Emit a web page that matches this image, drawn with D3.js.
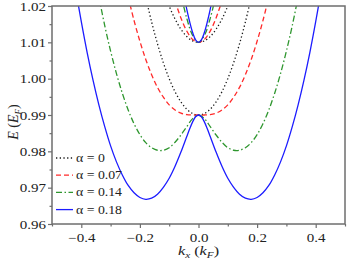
<!DOCTYPE html>
<html>
<head>
<meta charset="utf-8">
<script src="https://cdn.jsdelivr.net/npm/d3@7"></script>
<style>
  body { margin: 0; background: #fff; }
  svg text { font-family: "Liberation Serif", "Times New Roman", serif !important; fill: #222; }
</style>
</head>
<body>
<svg id="chart" width="349" height="265"></svg>
<script>
// values, k in units of kF, E in units of EF
var alphaLabels = ['\u03b1 = 0', '\u03b1 = 0.07', '\u03b1 = 0.14', '\u03b1 = 0.18'];

var k0lo = [-0.18,-0.16,-0.14,-0.12,-0.10,-0.08,-0.06,-0.04,-0.02,0,0.02,0.04,0.06,0.08,0.10,0.12,0.14,0.16,0.18];
var e0lo = [1.0224,1.0156,1.0096,1.0044,1.0000,0.9964,0.9936,0.9916,0.9904,0.9900,0.9904,0.9916,0.9936,0.9964,1.0000,1.0044,1.0096,1.0156,1.0224];
var k0up = [-0.12,-0.10,-0.08,-0.06,-0.04,-0.02,0,0.02,0.04,0.06,0.08,0.10,0.12];
var e0up = [1.0244,1.0200,1.0164,1.0136,1.0116,1.0104,1.0100,1.0104,1.0116,1.0136,1.0164,1.0200,1.0244];

var k07lo = [-0.24,-0.22,-0.20,-0.18,-0.16,-0.14,-0.12,-0.10,-0.08,-0.06,-0.04,-0.02,0,0.02,0.04,0.06,0.08,0.10,0.12,0.14,0.16,0.18,0.20,0.22,0.24];
var e07lo = [1.0225,1.0160,1.0103,1.0053,1.0011,0.9976,0.9949,0.9928,0.9914,0.9905,0.9901,0.9900,0.9900,0.9900,0.9901,0.9905,0.9914,0.9928,0.9949,0.9976,1.0011,1.0053,1.0103,1.0160,1.0225];
var k07up = [-0.08,-0.06,-0.04,-0.02,0,0.02,0.04,0.06,0.08];
var e07up = [1.0214,1.0167,1.0131,1.0108,1.0100,1.0108,1.0131,1.0167,1.0214];

var k14lo = [-0.34,-0.32,-0.30,-0.28,-0.26,-0.24,-0.22,-0.20,-0.18,-0.16,-0.14,-0.12,-0.10,-0.08,-0.06,-0.04,-0.02,0,0.02,0.04,0.06,0.08,0.10,0.12,0.14,0.16,0.18,0.20,0.22,0.24,0.26,0.28,0.30,0.32,0.34];
var e14lo = [1.0225,1.0146,1.0076,1.0014,0.9960,0.9914,0.9876,0.9846,0.9824,0.9810,0.9803,0.9803,0.9810,0.9825,0.9845,0.9868,0.9890,0.9900,0.9890,0.9868,0.9845,0.9825,0.9810,0.9803,0.9803,0.9810,0.9824,0.9846,0.9876,0.9914,0.9960,1.0014,1.0076,1.0146,1.0225];
var k14up = [-0.06,-0.04,-0.02,0,0.02,0.04,0.06];
var e14up = [1.0232,1.0166,1.0119,1.0100,1.0119,1.0166,1.0232];

var k18lo = [-0.42,-0.40,-0.38,-0.36,-0.34,-0.32,-0.30,-0.28,-0.26,-0.24,-0.22,-0.20,-0.18,-0.16,-0.14,-0.12,-0.10,-0.08,-0.06,-0.04,-0.03,-0.02,-0.01,0,0.01,0.02,0.03,0.04,0.06,0.08,0.10,0.12,0.14,0.16,0.18,0.20,0.22,0.24,0.26,0.28,0.30,0.32,0.34,0.36,0.38,0.40,0.42];
var e18lo = [1.0249,1.0157,1.0072,0.9996,0.9928,0.9868,0.9815,0.9771,0.9735,0.9706,0.9686,0.9673,0.9668,0.9671,0.9682,0.9701,0.9726,0.9759,0.9798,0.9841,0.9862,0.9881,0.9895,0.9900,0.9895,0.9881,0.9862,0.9841,0.9798,0.9759,0.9726,0.9701,0.9682,0.9671,0.9668,0.9673,0.9686,0.9706,0.9735,0.9771,0.9815,0.9868,0.9928,0.9996,1.0072,1.0157,1.0249];
var k18up = [-0.05,-0.04,-0.03,-0.02,-0.01,0,0.01,0.02,0.03,0.04,0.05];
var e18up = [1.0231,1.0191,1.0156,1.0127,1.0107,1.0100,1.0107,1.0127,1.0156,1.0191,1.0231];

var xTicks = [-0.4, -0.2, 0.0, 0.2, 0.4];
var yTicks = [0.96, 0.97, 0.98, 0.99, 1.00, 1.01, 1.02];

var styles = [
	{color: '#1a1a1a', dash: '1.3,2.4'},
	{color: '#ff2a2a', dash: '5,3'},
	{color: '#2e962e', dash: '6,2.5,1.5,2.5'},
	{color: '#1c1cff', dash: null}
];
var series = [
	[[k0lo, e0lo], [k0up, e0up]],
	[[k07lo, e07lo], [k07up, e07up]],
	[[k14lo, e14lo], [k14up, e14up]],
	[[k18lo, e18lo], [k18up, e18up]]
];

var serif = '"Liberation Serif", "Times New Roman", serif';
var svg = d3.select('#chart');
var margin = {top: 6, right: 4, bottom: 41, left: 52};
var width = 349 - margin.left - margin.right;
var height = 265 - margin.top - margin.bottom;
var sx = 1.25; // text in the picture looks stretched sideways

var x = d3.scaleLinear().domain([-0.5, 0.5]).range([0, width]);
var y = d3.scaleLinear().domain([0.96, 1.02]).range([height, 0]);

var g = svg.append('g').attr('transform', 'translate(' + margin.left + ',' + margin.top + ')');

g.append('clipPath').attr('id', 'clip')
	.append('rect').attr('width', width).attr('height', height);

var line = d3.line()
	.x(function(d) { return x(d[0]); })
	.y(function(d) { return y(d[1]); })
	.curve(d3.curveCatmullRom.alpha(0.5));

var curves = g.append('g').attr('clip-path', 'url(#clip)');
series.forEach(function(s, i) {
	s.forEach(function(branch) {
		var pts = branch[0].map(function(k, j) { return [k, branch[1][j]]; });
		curves.append('path')
			.attr('d', line(pts))
			.attr('fill', 'none')
			.attr('stroke', styles[i].color)
			.attr('stroke-width', 1.3)
			.attr('stroke-dasharray', styles[i].dash);
	});
});

// frame
g.append('rect').attr('width', width).attr('height', height)
	.attr('fill', 'none').attr('stroke', '#6e6e6e').attr('stroke-width', 1.5);

// major + minor ticks
var minorX = [-0.5, -0.3, -0.1, 0.1, 0.3, 0.5];
var minorY = [0.965, 0.975, 0.985, 0.995, 1.005, 1.015];
var xAxis = g.append('g').attr('transform', 'translate(0,' + height + ')')
	.call(d3.axisBottom(x).tickValues(xTicks).tickSize(4).tickSizeOuter(0).tickFormat(d3.format('.1f')));
var yAxis = g.append('g')
	.call(d3.axisLeft(y).tickValues(yTicks).tickSize(4).tickSizeOuter(0).tickFormat(d3.format('.2f')));
g.append('g').attr('transform', 'translate(0,' + height + ')')
	.call(d3.axisBottom(x).tickValues(minorX).tickSize(2.5).tickSizeOuter(0).tickFormat(''));
g.append('g')
	.call(d3.axisLeft(y).tickValues(minorY).tickSize(2.5).tickSizeOuter(0).tickFormat(''));
g.selectAll('.domain').remove();
g.selectAll('.tick line').attr('stroke', '#6e6e6e').attr('stroke-width', 1.2);
g.selectAll('g').attr('font-family', null);

xAxis.selectAll('text')
	.attr('y', 9).attr('dy', '0.71em')
	.attr('transform', 'scale(' + sx + ',1)')
	.attr('x', 0)
	.style('font-family', serif)
	.style('font-size', '12px');
yAxis.selectAll('text')
	.attr('x', -6 / sx).attr('dy', '0.34em')
	.attr('transform', 'scale(' + sx + ',1)')
	.style('font-family', serif)
	.style('font-size', '12px');

// axis titles
var xt = svg.append('text')
	.attr('transform', 'translate(' + (margin.left + x(0)) + ',255) scale(' + sx + ',1)')
	.attr('text-anchor', 'middle').style('font-family', serif).style('font-size', '13px');
xt.append('tspan').style('font-style', 'italic').text('k');
xt.append('tspan').style('font-style', 'italic').style('font-size', '9px').attr('dy', 3).text('x');
xt.append('tspan').attr('dy', -3).text(' (');
xt.append('tspan').style('font-style', 'italic').text('k');
xt.append('tspan').style('font-style', 'italic').style('font-size', '9px').attr('dy', 3).text('F');
xt.append('tspan').attr('dy', -3).text(')');

var yt = svg.append('text')
	.attr('transform', 'translate(18,122) rotate(-90)')
	.attr('text-anchor', 'middle').style('font-family', serif).style('font-size', '14px');
yt.append('tspan').style('font-style', 'italic').text('E');
yt.append('tspan').text(' (');
yt.append('tspan').style('font-style', 'italic').text('E');
yt.append('tspan').style('font-style', 'italic').style('font-size', '9px').attr('dy', 3).text('F');
yt.append('tspan').attr('dy', -3).text(')');

// legend
var legend = g.append('g').attr('transform', 'translate(4,' + (158 - margin.top) + ')');
alphaLabels.forEach(function(lbl, i) {
	var row = legend.append('g').attr('transform', 'translate(0,' + (i * 17.2) + ')');
	row.append('line')
		.attr('x1', 0).attr('x2', 17).attr('y1', 0).attr('y2', 0)
		.attr('stroke', styles[i].color).attr('stroke-width', 1.3)
		.attr('stroke-dasharray', styles[i].dash);
	row.append('text')
		.attr('transform', 'translate(20,0) scale(1.2,1)')
		.attr('dy', '0.35em')
		.style('font-family', serif)
		.style('font-size', '11.5px')
		.text(lbl);
});
</script>
</body>
</html>
